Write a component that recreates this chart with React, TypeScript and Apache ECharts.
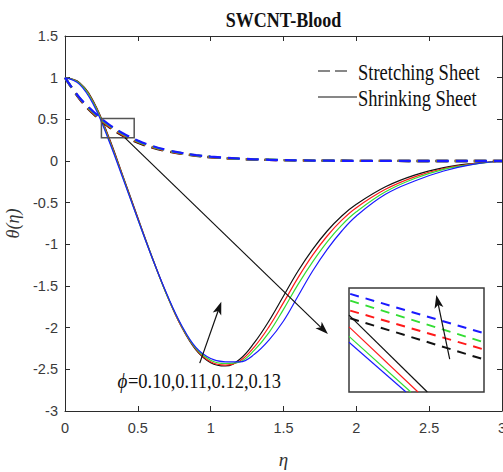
import React, { useEffect, useRef } from "react";
import * as echarts from "echarts";

// ---- main chart data (η, θ(η)) ----
const etaSolid = [0, 0.1, 0.2, 0.3, 0.4, 0.5, 0.6, 0.7, 0.8, 0.9, 1.0, 1.1, 1.2, 1.3, 1.4, 1.5, 1.6, 1.7, 1.8, 1.9, 2.0, 2.2, 2.4, 2.6, 2.8, 3.0];
const shrinkBlack = [1, 0.94, 0.7, 0.29, -0.19, -0.68, -1.16, -1.61, -1.99, -2.27, -2.42, -2.46, -2.38, -2.18, -1.92, -1.62, -1.32, -1.06, -0.84, -0.66, -0.52, -0.31, -0.17, -0.08, -0.03, 0];
const shrinkRed = [1, 0.935, 0.69, 0.28, -0.2, -0.69, -1.17, -1.61, -1.99, -2.26, -2.41, -2.45, -2.4, -2.23, -1.99, -1.7, -1.4, -1.13, -0.9, -0.71, -0.56, -0.34, -0.19, -0.09, -0.035, 0];
const shrinkGreen = [1, 0.93, 0.68, 0.265, -0.21, -0.7, -1.17, -1.61, -1.98, -2.25, -2.39, -2.43, -2.41, -2.27, -2.06, -1.78, -1.48, -1.21, -0.97, -0.77, -0.61, -0.37, -0.21, -0.1, -0.04, 0];
const shrinkBlue = [1, 0.92, 0.66, 0.25, -0.22, -0.7, -1.17, -1.6, -1.97, -2.24, -2.37, -2.41, -2.41, -2.32, -2.15, -1.92, -1.62, -1.32, -1.06, -0.84, -0.66, -0.4, -0.24, -0.12, -0.04, 0];

const etaDashed = [0, 0.1, 0.2, 0.3, 0.4, 0.5, 0.6, 0.7, 0.8, 0.9, 1.0, 1.2, 1.4, 1.6, 1.8, 2.0, 2.5, 3.0];
const stretchBlack = [1, 0.745, 0.555, 0.41, 0.3, 0.22, 0.16, 0.117, 0.085, 0.062, 0.045, 0.024, 0.013, 0.007, 0.004, 0.002, 0, 0];
const stretchRed = [1, 0.75, 0.565, 0.42, 0.31, 0.228, 0.167, 0.122, 0.089, 0.065, 0.047, 0.025, 0.014, 0.007, 0.004, 0.002, 0, 0];
const stretchGreen = [1, 0.755, 0.575, 0.43, 0.32, 0.236, 0.174, 0.127, 0.093, 0.068, 0.05, 0.027, 0.015, 0.008, 0.004, 0.002, 0, 0];
const stretchBlue = [1, 0.76, 0.585, 0.44, 0.33, 0.245, 0.18, 0.132, 0.097, 0.071, 0.052, 0.028, 0.015, 0.008, 0.004, 0.002, 0, 0];

// ---- magnified inset (window η 0.25–0.475, θ 0.28–0.51) ----
const insetRange = [0.25, 0.475, 0.28, 0.51];
const insetDashEta = [0.252, 0.475];
const insetDashBlack = [0.443, 0.352];
const insetDashRed = [0.46, 0.374];
const insetDashGreen = [0.482, 0.39];
const insetDashBlue = [0.497, 0.41];
const insetSolidBlackEta = [0.25, 0.3805];
const insetSolidBlack = [0.45, 0.28];
const insetSolidRedEta = [0.25, 0.365];
const insetSolidRed = [0.424, 0.28];
const insetSolidGreenEta = [0.25, 0.353];
const insetSolidGreen = [0.403, 0.28];
const insetSolidBlueEta = [0.25, 0.345];
const insetSolidBlue = [0.39, 0.28];

const xTicks = { min: 0, max: 3, interval: 0.5 };
const yTicks = { min: -3, max: 1.5, interval: 0.5 };

// annotation anchors in data coordinates (η, θ)
const zoomArrow = [[0.41, 0.28], [1.805, -2.077]];
const phiArrow = [[0.925, -2.425], [1.073, -1.69]];
const insetArrow = [[2.641, -2.377], [2.549, -1.609]];
const phiLabelPos = [0.36, -2.63];
const phiSymbol = "ϕ";
const phiValues = "=0.10,0.11,0.12,0.13";

const colors = { black: "#111111", red: "#ff1a1a", green: "#33dd33", blue: "#1a1aff" };
const serif = "'Liberation Serif', 'Times New Roman', serif";
const sans = "'Liberation Sans', Arial, sans-serif";

function zip(xs: number[], ys: number[]) {
  return xs.map((x, i) => [x, ys[i]]);
}

export default function App() {
  const ref = useRef<HTMLDivElement>(null);
  useEffect(() => {
    if (!ref.current) return;
    const chart = echarts.init(ref.current, null, { renderer: "svg" });
    const axisColor = "#2b2b2b";
    const mainX = (pos: "bottom" | "top", labels: boolean) => ({
      type: "value",
      gridIndex: 0,
      position: pos,
      ...xTicks,
      axisLine: { show: true, onZero: false, lineStyle: { color: axisColor, width: 1 } },
      axisTick: { show: true, inside: true, length: 5, lineStyle: { color: axisColor } },
      axisLabel: { show: labels, color: "#3a3a3a", fontSize: 14.5, fontFamily: sans, margin: 9 },
      splitLine: { show: false },
      ...(labels
        ? { name: "η", nameLocation: "middle", nameGap: 39, nameTextStyle: { fontFamily: serif, fontStyle: "italic", fontSize: 19, color: "#333" } }
        : {}),
    });
    const mainY = (pos: "left" | "right", labels: boolean) => ({
      type: "value",
      gridIndex: 0,
      position: pos,
      ...yTicks,
      axisLine: { show: true, onZero: false, lineStyle: { color: axisColor, width: 1 } },
      axisTick: { show: true, inside: true, length: 5, lineStyle: { color: axisColor } },
      axisLabel: { show: labels, color: "#3a3a3a", fontSize: 14.5, fontFamily: sans, margin: 7 },
      splitLine: { show: false },
      ...(labels
        ? { name: "θ(η)", nameLocation: "middle", nameGap: 34, nameRotate: 90, nameTextStyle: { fontFamily: serif, fontStyle: "italic", fontSize: 18, color: "#333" } }
        : {}),
    });
    const solid = (data: number[], eta: number[], color: string) => ({
      type: "line", xAxisIndex: 0, yAxisIndex: 0, data: zip(eta, data), showSymbol: false,
      smooth: 0.4, lineStyle: { color, width: 1.2, type: "solid" }, z: 3,
    });
    const dashed = (data: number[], eta: number[], color: string) => ({
      type: "line", xAxisIndex: 0, yAxisIndex: 0, data: zip(eta, data), showSymbol: false,
      smooth: 0.4, lineStyle: { color, width: 2.3, type: [12, 7] }, z: 4,
    });
    const inset = (eta: number[], data: number[], color: string, dash: boolean) => ({
      type: "line", xAxisIndex: 2, yAxisIndex: 2, data: zip(eta, data), showSymbol: false,
      lineStyle: { color, width: dash ? 2 : 1.2, type: dash ? [9, 7] : "solid" }, z: 30,
    });
    const insetAxis = (min: number, max: number) => ({
      type: "value", gridIndex: 1, min, max, show: true,
      axisLine: { show: false }, axisTick: { show: false }, axisLabel: { show: false }, splitLine: { show: false },
    });

    chart.setOption({
      animation: false,
      backgroundColor: "#ffffff",
      grid: [
        { left: 65, top: 36, width: 437, height: 375, show: false, containLabel: false, outerBoundsMode: "none" },
        { left: 349, top: 288, width: 135, height: 104, show: true, borderColor: "#3a3a3a", borderWidth: 1.5, backgroundColor: "#fff", containLabel: false, outerBoundsMode: "none" },
      ],
      xAxis: [mainX("bottom", true), mainX("top", false), insetAxis(insetRange[0], insetRange[1])],
      yAxis: [mainY("left", true), mainY("right", false), insetAxis(insetRange[2], insetRange[3])],
      series: [
        solid(shrinkBlack, etaSolid, colors.black),
        solid(shrinkRed, etaSolid, colors.red),
        solid(shrinkGreen, etaSolid, colors.green),
        solid(shrinkBlue, etaSolid, colors.blue),
        dashed(stretchBlack, etaDashed, colors.black),
        dashed(stretchRed, etaDashed, colors.red),
        dashed(stretchGreen, etaDashed, colors.green),
        dashed(stretchBlue, etaDashed, colors.blue),
        inset(insetDashEta, insetDashBlack, colors.black, true),
        inset(insetDashEta, insetDashRed, colors.red, true),
        inset(insetDashEta, insetDashGreen, colors.green, true),
        inset(insetDashEta, insetDashBlue, colors.blue, true),
        inset(insetSolidBlackEta, insetSolidBlack, colors.black, false),
        inset(insetSolidRedEta, insetSolidRed, colors.red, false),
        inset(insetSolidGreenEta, insetSolidGreen, colors.green, false),
        inset(insetSolidBlueEta, insetSolidBlue, colors.blue, false),
      ],
    });

    const toPx = (p: number[]) => chart.convertToPixel({ xAxisIndex: 0, yAxisIndex: 0 }, p) as number[];
    const arrow = (from: number[], to: number[], head = 13, half = 4.5) => {
      const a = toPx(from);
      const b = toPx(to);
      const dx = b[0] - a[0], dy = b[1] - a[1];
      const len = Math.hypot(dx, dy);
      const ux = dx / len, uy = dy / len;
      const px = -uy, py = ux;
      const base = [b[0] - ux * head, b[1] - uy * head];
      const notch = [b[0] - ux * head * 0.75, b[1] - uy * head * 0.75];
      return [
        { type: "line", shape: { x1: a[0], y1: a[1], x2: notch[0], y2: notch[1] }, style: { stroke: "#111", lineWidth: 1.2 }, z: 40 },
        {
          type: "polygon",
          shape: { points: [b, [base[0] + px * half, base[1] + py * half], notch, [base[0] - px * half, base[1] - py * half]] },
          style: { fill: "#111" }, z: 40,
        },
      ];
    };
    const b0 = toPx([insetRange[0], insetRange[3]]);
    const b1 = toPx([insetRange[1], insetRange[2]]);
    const lbl = toPx(phiLabelPos);
    const titleX = (toPx([0, 0])[0] + toPx([3, 0])[0]) / 2;

    chart.setOption({
      graphic: [
        {
          type: "text", x: titleX, y: 19, scaleY: 1.2, z: 40,
          style: { text: "SWCNT-Blood", fontFamily: serif, fontWeight: "bold", fontSize: 18, fill: "#111", align: "center", verticalAlign: "middle" },
        },
        { type: "rect", shape: { x: b0[0], y: b0[1], width: b1[0] - b0[0], height: b1[1] - b0[1] }, style: { fill: "none", stroke: "#555", lineWidth: 1.5 }, z: 40 },
        ...arrow(zoomArrow[0], zoomArrow[1]),
        ...arrow(phiArrow[0], phiArrow[1]),
        ...arrow(insetArrow[0], insetArrow[1]),
        {
          type: "text", x: lbl[0], y: lbl[1], scaleY: 1.12, z: 40,
          style: { text: phiSymbol, fontFamily: serif, fontStyle: "italic", fontSize: 19, fill: "#111", verticalAlign: "middle" },
        },
        {
          type: "text", x: lbl[0] + 10.5, y: lbl[1], scaleY: 1.12, z: 40,
          style: { text: phiValues, fontFamily: serif, fontSize: 18.5, fill: "#111", verticalAlign: "middle" },
        },
        // legend
        { type: "line", shape: { x1: 318, y1: 71, x2: 347, y2: 71 }, style: { stroke: "#111", lineWidth: 1.2, lineDash: [12, 5] }, z: 40 },
        { type: "text", x: 358, y: 72, scaleY: 1.2, z: 40, style: { text: "Stretching Sheet", fontFamily: serif, fontSize: 18.5, fill: "#111", verticalAlign: "middle" } },
        { type: "line", shape: { x1: 318, y1: 97, x2: 357, y2: 97 }, style: { stroke: "#111", lineWidth: 1.2 }, z: 40 },
        { type: "text", x: 358, y: 98, scaleY: 1.2, z: 40, style: { text: "Shrinking Sheet", fontFamily: serif, fontSize: 18.5, fill: "#111", verticalAlign: "middle" } },
      ],
    });
    return () => chart.dispose();
  }, []);
  return <div ref={ref} style={{ position: "fixed", left: 0, top: 0, width: 503, height: 472 }} />;
}
